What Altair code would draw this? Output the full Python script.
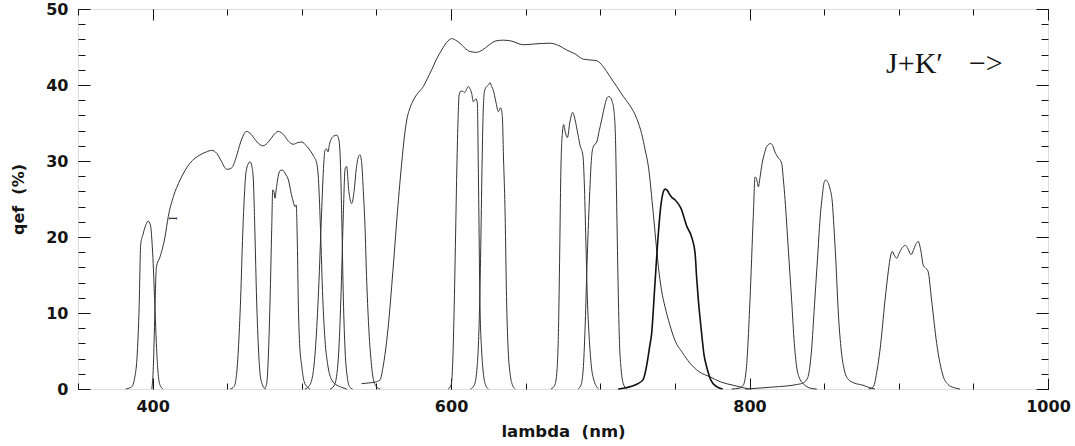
import altair as alt
import pandas as pd

# ---------------- data ----------------
# narrow filter ~397 nm
A_nm = [382, 386, 388, 389.5, 391, 392, 393.5, 395.5, 397, 398.5, 400, 401.5, 402.5, 403.5, 405, 407]
A_q = [0, 0.3, 1.5, 4, 11, 19, 20.3, 21.6, 22.1, 21.6, 18, 11, 6, 2.5, 0.5, 0]
# broad band 400-530 nm
B_nm = [399.5, 400.5, 401.5, 402.5, 405, 408.3, 410.5, 413.9, 418.4, 425, 431.8, 436, 439.6, 443, 446,
        449.6, 453, 456, 459, 463, 466, 470, 474, 478, 481, 484.2, 488, 491, 494.3, 497, 500, 503, 505.5,
        508, 510, 511.3, 512.5, 514, 515.5, 517.5, 520, 523.5, 527, 530]
B_q = [0, 3, 10, 16, 17.4, 20, 22.7, 25.3, 27.5, 29.7, 30.8, 31.2, 31.4, 31, 30, 28.9, 29.1, 30.5, 32.5,
       33.9, 33.5, 32.5, 32, 32.6, 33.4, 33.9, 33.4, 32.6, 32.2, 32.4, 32.5, 32, 31.4, 30.6, 29.7, 27, 21,
       12, 6.5, 3, 1.2, 0.5, 0.2, 0]
# filter ~465 nm
C_nm = [452, 454.5, 456, 457.4, 459, 460.4, 461.5, 462.5, 464, 465.3, 466.5, 467.5, 468.5, 469.7, 471, 472, 473.5, 475.5]
C_q = [0, 0.3, 1.5, 5, 12, 20.5, 25.5, 28.4, 29.6, 29.9, 29.3, 27.5, 21, 11.7, 5, 2, 0.6, 0]
# filter ~486 nm
D_nm = [475, 476.5, 477.5, 478.7, 479.8, 480.5, 481.3, 482, 483, 484.5, 486, 487.2, 489, 491, 493, 494.3,
        495.4, 496.2, 497, 497.6, 498.5, 500, 501.5, 503.5, 505.5]
D_q = [0, 0.8, 4, 11.7, 21, 26.2, 26, 25.1, 26.5, 28.3, 28.8, 28.8, 28.3, 27.5, 25.6, 24.6, 24, 24.2, 19,
       11.7, 6, 2.9, 1, 0.3, 0]
# filter ~523 nm
E_nm = [502, 504.5, 507, 509, 511, 513, 514.5, 515.5, 516.5, 517.5, 518.5, 520, 521.5, 523.4, 524.8, 525.8,
        526.8, 527.8, 529, 530.5, 532, 534]
E_q = [0, 0.3, 1.5, 5, 12, 22, 29, 31.4, 31.6, 31.2, 32.2, 33, 33.3, 33.4, 32.8, 30, 22, 12, 5, 1.5, 0.3, 0]
# double peaked filter ~530/538 nm
F_nm = [519, 521.5, 523.5, 525, 526.5, 527.8, 529, 530, 531.5, 533.4, 535, 536.5, 538, 539, 540.2, 541.2,
        542.2, 543.5, 545, 546.5, 548, 550, 552.5]
F_q = [0, 0.4, 2, 6, 14, 23, 29, 29.3, 26, 24.4, 26, 29, 30.6, 30.8, 29.5, 26, 22, 14, 7.5, 3.5, 1.2, 0.3, 0]
# broad band 540-800 nm
G_nm = [540, 545, 549, 552.4, 554.5, 556.9, 558.5, 560.2, 562, 563.6, 565.2, 566.9, 568.6, 570.3, 572.5,
        574.7, 578, 581.4, 584, 587, 590, 593.7, 597, 600.4, 603, 606, 609, 612.7, 617, 621, 625, 630, 635,
        640, 648.4, 656, 666.3, 672, 677.5, 683, 688.6, 693, 697.6, 702, 706.5, 711, 715.4, 719.5, 723.3,
        725.5, 727.7, 730, 732.2, 735.5, 738.9, 741, 743.4, 746.5, 750, 755, 760.1, 766, 773.5, 781, 789,
        795, 800]
G_q = [0.7, 0.8, 0.9, 1.2, 3, 6.4, 9.5, 13.5, 18, 22.2, 26, 29.7, 33, 35.4, 37, 38, 39, 39.8, 40.8, 42,
       43.3, 44.6, 45.6, 46.1, 45.9, 45.5, 44.9, 44.4, 44.3, 44.6, 45.2, 45.8, 45.9, 45.8, 45.3, 45.4, 45.5,
       45.2, 44.6, 44.1, 43.4, 43.3, 43.2, 42.4, 41.1, 39.8, 38.5, 37.4, 36.1, 35, 33.6, 31.5, 29.3, 23.1,
       16.1, 13, 10.8, 8.5, 6.4, 4.8, 3.4, 2.3, 1.6, 0.9, 0.5, 0.2, 0]
# filter ~610 nm
H_nm = [598, 600, 601, 602, 603, 603.8, 604.6, 605.3, 606, 607.8, 609, 610.3, 611.5, 612.7, 613.8, 614.9,
        615.8, 616.7, 617.6, 618.3, 619.4, 620.5, 621.6, 623, 625]
H_q = [0, 0.5, 3, 10, 20, 28.4, 35, 38.5, 39.1, 39.2, 39, 39.4, 39.8, 39.5, 38.9, 37.8, 38, 38.2, 37.6,
       28.4, 10.8, 5, 2.1, 0.6, 0]
# filter ~626 nm
I_nm = [613, 615.5, 617.5, 619, 620, 620.8, 621.6, 622.5, 623.9, 625, 626.1, 627.2, 628.3, 630, 631.7,
        633.2, 634.3, 635.2, 636.1, 637.3, 638.3, 639.5, 641, 643]
I_q = [0, 0.5, 3, 10, 20, 30, 37, 39.3, 39.8, 40, 40.3, 39.8, 39.3, 37.8, 36.5, 37, 36, 30, 24, 10.8, 5,
       2.1, 0.6, 0]
# filter ~681 nm
J_nm = [667, 669.5, 671, 672, 672.8, 673.5, 674.5, 675.5, 676.5, 678, 679.5, 681.5, 683, 685, 686.5, 688.3,
        689.3, 690.2, 691.3, 692.5, 694, 696, 699]
J_q = [0, 0.5, 2.5, 8, 18, 28, 33.5, 34.8, 33.8, 33.1, 35, 36.4, 35.5, 33.5, 32, 30.8, 27, 20.5, 12, 7, 3,
       1, 0]
# filter ~705 nm
K_nm = [685, 687, 688.5, 689.8, 690.9, 692.5, 694.2, 695.3, 697.6, 699.3, 700.9, 702.6, 704.3, 705.5,
        706.5, 708, 709.2, 710.2, 711, 711.8, 712.8, 714, 715.4, 717.6]
K_q = [0, 0.5, 2.5, 8, 15.2, 24, 30.6, 31.9, 32.5, 34, 35.4, 37, 38.2, 38.5, 38.4, 37.8, 36.5, 32.8, 24,
       15, 6.4, 2.5, 0.7, 0]
# filter ~745 nm (heavier line)
L_nm = [712, 718, 724, 728.6, 731, 733, 734.4, 736.5, 738.9, 740.5, 742.3, 743.4, 745, 746.5, 748, 750,
        754, 758, 761.2, 763.5, 764.6, 765.7, 767, 767.9, 769.5, 771.3, 774, 778, 782]
L_q = [0, 0.2, 0.6, 1.2, 3, 5.5, 7.3, 13.5, 20.5, 24, 26, 26.3, 26.1, 25.6, 25.2, 24.9, 23.8, 21.4, 20,
       17.9, 14.5, 11.7, 9, 7.3, 4.5, 2.9, 1.2, 0.3, 0]
# filter ~814 nm
M_nm = [788, 793, 795.8, 798, 800.3, 802.5, 803.7, 804.8, 805.9, 807, 808.1, 810, 811.5, 814.2, 815.8,
        817, 819, 821.5, 822.7, 823.8, 826, 828.2, 830, 831.6, 834, 836, 841, 845]
M_q = [0, 0.1, 0.5, 3, 11.7, 22.7, 27.9, 27.6, 26.6, 27.8, 29.3, 31, 31.9, 32.3, 31.9, 31.2, 30.5, 29.7,
       27.5, 24.9, 18.3, 11.7, 6, 2.9, 1.2, 0.7, 0.1, 0]
# filter ~851 nm
N_nm = [797, 805, 815, 825, 832, 836, 839, 841.5, 843.5, 845.5, 847.3, 848.8, 850, 851, 852.5, 854,
        855.5, 856.5, 857.8, 859.5, 861.5, 863.5, 866, 870, 876, 880, 884]
N_q = [0, 0.1, 0.25, 0.4, 0.6, 0.8, 1.5, 5, 11, 17, 22.5, 25.5, 27.2, 27.5, 27.2, 26.3, 24.5, 21.5, 17,
       10, 5, 2.5, 1.3, 0.8, 0.5, 0.2, 0]
# filter ~905 nm
O_nm = [880, 883, 885.5, 887.4, 890.8, 893, 894.5, 895.7, 897, 898.6, 900.3, 902, 904.5, 906, 908.2,
        909.7, 911.3, 913.1, 914.5, 916.4, 918, 919.6, 922, 925.4, 927.5, 929.9, 933, 936.6, 941]
O_q = [0, 0.3, 2.5, 5.1, 11.7, 15.5, 17.5, 18.1, 17.6, 17.2, 17.9, 18.5, 18.9, 18.5, 17.7, 18.2, 19,
       19.4, 18.5, 16.3, 15.9, 15.5, 11.7, 6, 3.5, 1.6, 0.6, 0.2, 0]

THIN = [("A", A_nm, A_q), ("B", B_nm, B_q), ("C", C_nm, C_q), ("D", D_nm, D_q), ("E", E_nm, E_q),
        ("F", F_nm, F_q), ("G", G_nm, G_q), ("H", H_nm, H_q), ("I", I_nm, I_q), ("J", J_nm, J_q),
        ("K", K_nm, K_q), ("M", M_nm, M_q), ("N", N_nm, N_q), ("O", O_nm, O_q)]
THICK = [("L", L_nm, L_q)]

X_LABELS = [400, 600, 800, 1000]
X_MINOR = [350, 400, 450, 500, 550, 600, 650, 700, 750, 800, 850, 900, 950, 1000]
Y_LABELS = [0, 10, 20, 30, 40, 50]
Y_MINOR = [0, 2, 4, 6, 8, 10, 12, 14, 16, 18, 20, 22, 24, 26, 28, 30, 32, 34, 36, 38, 40, 42, 44, 46, 48, 50]

ANN_TEXT = ["J+K\u2032", "\u2212>"]
ANN_X = [891.5, 947.0]
ANN_Y = [41.6, 41.6]
MARK_TEXT = ["I"]
MARK_X = [413.9]
MARK_Y = [22.45]


def to_frame(curves):
    rows = []
    for name, xs, ys in curves:
        for x, y in zip(xs, ys):
            rows.append({"curve": name, "nm": x, "qef": y})
    return pd.DataFrame(rows)


thin_df = to_frame(THIN)
thick_df = to_frame(THICK)
ann_df = pd.DataFrame({"t": ANN_TEXT, "nm": ANN_X, "qef": ANN_Y})
mark_df = pd.DataFrame({"t": MARK_TEXT, "nm": MARK_X, "qef": MARK_Y})

W, H = 970, 380
FONT = "DejaVu Sans"
INK = "#151515"
xs = alt.Scale(domain=[350, 1000], nice=False, zero=False)
ys = alt.Scale(domain=[0, 50], nice=False, zero=False)


def tick_axis(orient, offset, values, size):
    return alt.Axis(orient=orient, offset=offset, values=values, tickSize=size, tickWidth=1,
                    tickColor=INK, labels=False, domain=False, grid=False, title=None)


x_lab = alt.Axis(orient="bottom", values=X_LABELS, format="d", tickSize=0, labelPadding=9, labelFont=FONT,
                 labelFontSize=16, labelFontWeight="bold", labelColor=INK, labelFlush=False,
                 domain=False, grid=False, title="lambda\u00a0\u00a0(nm)", titleFont=FONT,
                 titleFontSize=16.5, titleFontWeight="bold", titleColor=INK, titlePadding=9)
y_lab = alt.Axis(orient="left", values=Y_LABELS, format="d", tickSize=0, labelPadding=10, labelFont=FONT,
                 labelFontSize=16, labelFontWeight="bold", labelColor=INK, labelFlush=False,
                 domain=False, grid=False, title="qef\u00a0\u00a0(%)", titleFont=FONT,
                 titleFontSize=16, titleFontWeight="bold", titleColor=INK, titlePadding=19)

lines = alt.Chart(thin_df).mark_line(color="#333333", strokeWidth=1, interpolate="monotone").encode(
    x=alt.X("nm:Q", scale=xs, axis=x_lab),
    y=alt.Y("qef:Q", scale=ys, axis=y_lab),
    detail="curve:N",
)
thick = alt.Chart(thick_df).mark_line(color="#111111", strokeWidth=1.6, interpolate="monotone").encode(
    x=alt.X("nm:Q", scale=xs, axis=None),
    y=alt.Y("qef:Q", scale=ys, axis=None),
)


def axes_layer(xa, ya):
    return alt.Chart(thin_df).mark_point(opacity=0).encode(
        x=alt.X("nm:Q", scale=xs, axis=xa),
        y=alt.Y("qef:Q", scale=ys, axis=ya),
    )


ax1 = axes_layer(tick_axis("top", -H, X_LABELS, 11), tick_axis("right", -W, Y_LABELS, 12))
ax2 = axes_layer(tick_axis("top", -H, X_MINOR, 6), tick_axis("right", -W, Y_MINOR, 7))
ax3 = axes_layer(tick_axis("bottom", -H, X_LABELS, 11), tick_axis("left", -W, Y_LABELS, 12))
ax4 = axes_layer(tick_axis("bottom", -H, X_MINOR, 6), tick_axis("left", -W, Y_MINOR, 7))

ann = alt.Chart(ann_df).mark_text(font="Liberation Serif", fontSize=30, align="left",
                                  baseline="alphabetic", color=INK).encode(
    x=alt.X("nm:Q", scale=xs, axis=None),
    y=alt.Y("qef:Q", scale=ys, axis=None),
    text="t:N",
)
mark_i = alt.Chart(mark_df).mark_text(font="Liberation Serif", fontSize=13, align="center",
                                      baseline="middle", angle=90, color="#333333").encode(
    x=alt.X("nm:Q", scale=xs, axis=None),
    y=alt.Y("qef:Q", scale=ys, axis=None),
    text="t:N",
)

chart = alt.layer(lines, thick, ax1, ax2, ax3, ax4, ann, mark_i).resolve_axis(
    x="independent", y="independent"
).properties(
    width=W, height=H,
    autosize=alt.AutoSizeParams(type="none"),
    padding={"left": 78, "top": 9, "right": 27, "bottom": 57},
).configure_view(stroke=INK, strokeWidth=1.2).configure(background="white")

chart.save("out.html", embed_options={"renderer": "svg", "actions": False})
